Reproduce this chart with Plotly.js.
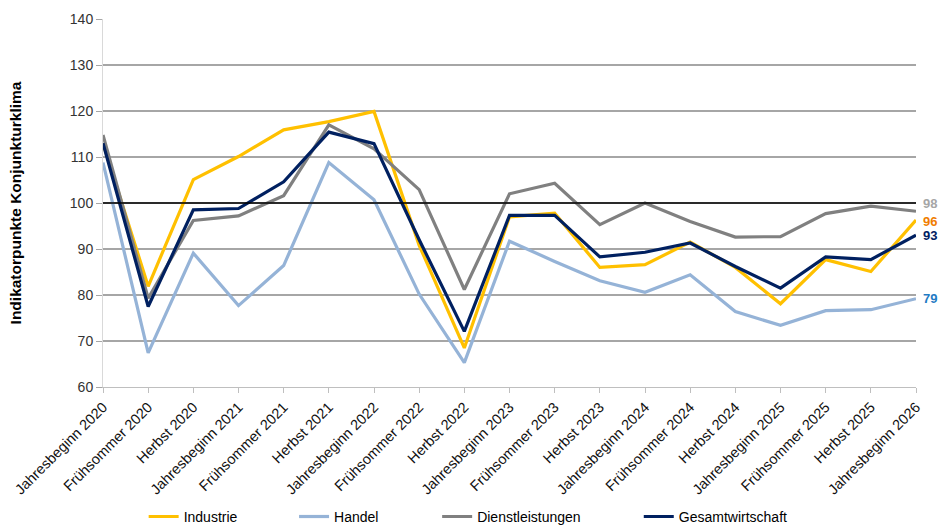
<!DOCTYPE html>
<html>
<head>
<meta charset="utf-8">
<script src="https://cdn.plot.ly/plotly-3.0.1.min.js"></script>
<style>html,body{margin:0;padding:0;background:#fff;}#chart{width:945px;height:532px;}</style>
</head>
<body>
<div id="chart"></div>
<script>
const categories = ["Jahresbeginn 2020","Frühsommer 2020","Herbst 2020","Jahresbeginn 2021","Frühsommer 2021","Herbst 2021","Jahresbeginn 2022","Frühsommer 2022","Herbst 2022","Jahresbeginn 2023","Frühsommer 2023","Herbst 2023","Jahresbeginn 2024","Frühsommer 2024","Herbst 2024","Jahresbeginn 2025","Frühsommer 2025","Herbst 2025","Jahresbeginn 2026"];
const industrie = [113.0, 81.9, 105.1, 110.1, 115.9, 117.7, 119.9, 90.8, 68.5, 97.0, 97.8, 86.0, 86.6, 91.5, 86.0, 78.1, 87.7, 85.1, 96.3];
const handel = [108.8, 67.4, 89.1, 77.7, 86.4, 108.8, 100.7, 80.2, 65.3, 91.7, 87.3, 83.1, 80.6, 84.4, 76.4, 73.4, 76.6, 76.8, 79.2];
const dienstleistungen = [114.8, 79.3, 96.2, 97.2, 101.6, 117.0, 111.8, 102.9, 81.2, 102.0, 104.3, 95.3, 100.0, 96.0, 92.6, 92.7, 97.7, 99.3, 98.2];
const gesamtwirtschaft = [113.0, 77.5, 98.5, 98.8, 104.6, 115.4, 112.9, 92.0, 72.1, 97.3, 97.3, 88.3, 89.3, 91.3, 86.2, 81.5, 88.3, 87.7, 93.0];
const seriesNames = ["Industrie","Handel","Dienstleistungen","Gesamtwirtschaft"];
const yTicks = [60,70,80,90,100,110,120,130,140];

const seriesData = [industrie, handel, dienstleistungen, gesamtwirtschaft];
const lineColors = ["#FFC000","#95B3D7","#808080","#002060"];
const labelColors = ["#F07D00","#1F7BC4","#A6A6A6","#002060"];
const labelShift = [-1, 0, 8, 0];
const legendIds = ["legend","legend2","legend3","legend4"];
const legendX = [0.050, 0.235, 0.411, 0.659];

const traces = seriesData.map((vals, i) => ({
  type: "scatter", mode: "lines", name: seriesNames[i],
  x: categories, y: vals,
  line: {color: lineColors[i], width: 3.2},
  legend: legendIds[i],
  hoverinfo: "skip"
}));

const last = categories.length - 1;
const annotations = seriesData.map((vals, i) => ({
  x: categories[last], y: vals[last], xref: "x", yref: "y",
  text: "<b>" + Math.round(vals[last]) + "</b>",
  showarrow: false, xanchor: "left", yanchor: "middle", xshift: 5, yshift: labelShift[i],
  font: {family: "Liberation Sans, Arial, sans-serif", size: 13, color: labelColors[i]}
}));

const layout = {
  width: 945, height: 532,
  margin: {l: 103, r: 29, t: 19, b: 145, autoexpand: false},
  paper_bgcolor: "#fff", plot_bgcolor: "#fff",
  font: {family: "Liberation Sans, Arial, sans-serif", size: 13, color: "#222"},
  showlegend: true,
  xaxis: {
    type: "category", range: [0, last], tickangle: -45, automargin: false,
    showgrid: false, showline: true, linecolor: "#BFBFBF", linewidth: 1,
    ticks: "outside", ticklen: 5, tickcolor: "#BFBFBF",
    tickfont: {size: 14.5, color: "#111"}, fixedrange: true
  },
  yaxis: {
    range: [60, 140], tickvals: yTicks, ticktext: yTicks.map(String), automargin: false,
    showgrid: true, gridcolor: "#A6A6A6", gridwidth: 1.2,
    showline: true, linecolor: "#D9D9D9", linewidth: 1,
    ticks: "outside", ticklen: 6, tickcolor: "#A6A6A6",
    zeroline: false,
    tickfont: {size: 14, color: "#333"},
    title: {text: "<b>Indikatorpunkte Konjunkturklima</b>", font: {size: 15.5, color: "#000"}, standoff: 44},
    fixedrange: true
  },
  shapes: [{type: "line", xref: "paper", x0: 0, x1: 1, yref: "y", y0: 100, y1: 100,
    line: {color: "#000", width: 1.3}, layer: "above"}],
  annotations: annotations
};
legendIds.forEach((id, i) => {
  layout[id] = {orientation: "h", x: legendX[i], xanchor: "left", y: -0.353, yanchor: "middle",
    font: {size: 14, color: "#000"}, bgcolor: "rgba(0,0,0,0)"};
});

Plotly.newPlot("chart", traces, layout, {displayModeBar: false, staticPlot: true});
</script>
</body>
</html>
